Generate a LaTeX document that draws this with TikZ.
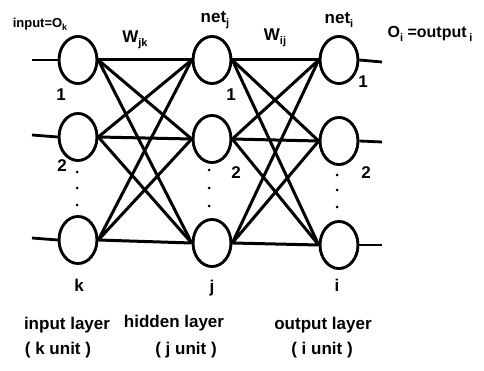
\documentclass[tikz,border=0pt]{standalone}
\usepackage{fontspec}
\setmainfont{Liberation Sans}
\usetikzlibrary{shapes.geometric}
\newcommand{\lsub}[1]{\raisebox{-0.4ex}{\fontsize{11}{11}\selectfont #1}}
\newcommand{\ssub}[1]{\raisebox{-0.4ex}{\fontsize{9}{9}\selectfont #1}}
\tikzset{
  neuron/.style={ellipse,draw,line width=2.6pt,minimum width=38pt,minimum height=47pt,inner sep=0pt,fill=white},
  link/.style={line width=3pt},
  stub/.style={line width=2.8pt},
  lbl/.style={font=\fontsize{17}{19}\selectfont\bfseries,inner sep=0pt},
  small/.style={font=\fontsize{13}{15}\selectfont\bfseries,inner sep=0pt},
  mid/.style={font=\fontsize{16}{18}\selectfont\bfseries,inner sep=0pt},
  dotmark/.style={circle,fill=black,inner sep=0pt,minimum size=3pt}
}
\begin{document}
\begin{tikzpicture}[x=1pt,y=-1pt]
\useasboundingbox (0,0) rectangle (484,371);
% nodes
\node[neuron] (i1) at (78,60) {};
\node[neuron] (i2) at (78,137) {};
\node[neuron] (i3) at (78,240) {};
\node[neuron] (h1) at (212,60) {};
\node[neuron] (h2) at (212,139) {};
\node[neuron] (h3) at (212,243) {};
\node[neuron] (o1) at (339,60) {};
\node[neuron] (o2) at (339,141) {};
\node[neuron] (o3) at (339,245) {};
% stubs
\coordinate (s1) at (32,60);
\coordinate (s2) at (32,135);
\coordinate (s3) at (32,238);
\coordinate (t1) at (382,62);
\coordinate (t2) at (382,142);
\coordinate (t3) at (382,245);
\draw[stub] (s1) -- (i1.west);
\draw[stub] (s2) -- (i2.west);
\draw[stub] (s3) -- (i3.west);
\draw[stub] (o1.east) -- (t1);
\draw[stub] (o2.east) -- (t2);
\draw[stub] (o3.east) -- (t3);
% links
\foreach \a in {i1,i2,i3}{
  \foreach \b in {h1,h2,h3}{
    \draw[link] (\a.east) -- (\b.west);
  }
}
\foreach \a in {h1,h2,h3}{
  \foreach \b in {o1,o2,o3}{
    \draw[link] (\a.east) -- (\b.west);
  }
}
% redraw neuron outlines on top
\foreach \n in {i1,i2,i3,h1,h2,h3,o1,o2,o3}{
  \draw[line width=2.6pt] (\n.center) ellipse (19pt and 23.5pt);
}
% labels
\node[small] (inlbl) at (40,24) {input=O\ssub{k}};
\node[lbl] (wjk) at (135,40) {W\lsub{jk}};
\node[lbl] (netj) at (215,20) {net\lsub{j}};
\node[lbl] (wij) at (275,38) {W\lsub{ij}};
\node[lbl] (neti) at (339,20) {net\lsub{i}};
\node[mid] (outlbl) at (430,34) {O\lsub{i} =output\,\lsub{i}};
\node[lbl] (n1a) at (61,95) {1};
\node[lbl] (n1b) at (231,95) {1};
\node[lbl] (n1c) at (363,82) {1};
\node[lbl] (n2a) at (62,166) {2};
\node[lbl] (n2b) at (236,173) {2};
\node[lbl] (n2c) at (366,173) {2};
\node[dotmark] (da1) at (77,172) {};
\node[dotmark] (da2) at (77,188) {};
\node[dotmark] (da3) at (77,205) {};
\node[dotmark] (db1) at (209,170) {};
\node[dotmark] (db2) at (209,188) {};
\node[dotmark] (db3) at (209,206) {};
\node[dotmark] (dc1) at (337,175) {};
\node[dotmark] (dc2) at (337,190) {};
\node[dotmark] (dc3) at (337,207) {};
\node[lbl] (kk) at (79,285) {k};
\node[lbl] (jj) at (212,288) {j};
\node[lbl] (ii) at (337,285) {i};
\node[lbl] (l1) at (67,325) {input layer};
\node[lbl] (u1) at (58,350) {( k unit )};
\node[lbl] (l2) at (174,323) {hidden layer};
\node[lbl] (u2) at (186,350) {( j unit )};
\node[lbl] (l3) at (323,325) {output layer};
\node[lbl] (u3) at (322,350) {( i unit )};
\end{tikzpicture}
\end{document}
